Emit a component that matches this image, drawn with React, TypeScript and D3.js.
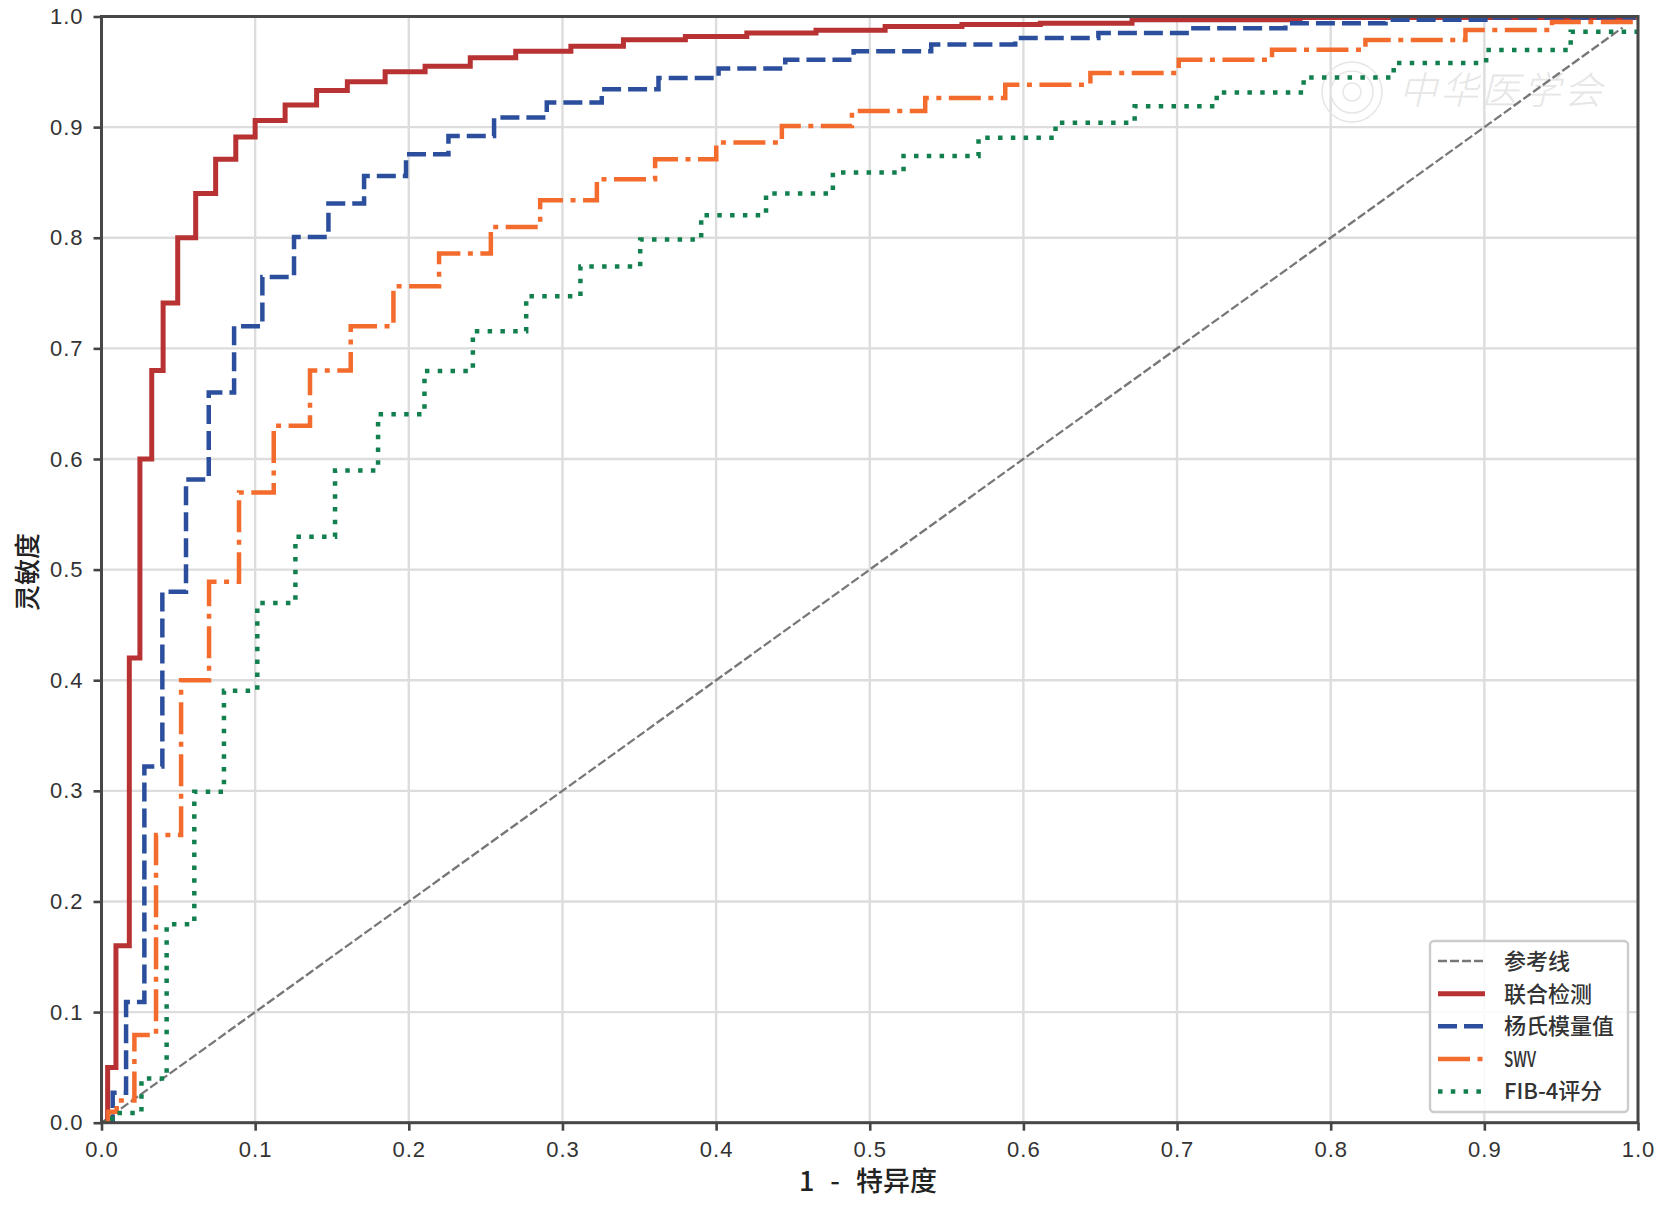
import React, { useEffect, useRef } from 'react'
import * as d3 from 'd3'

const ticks = [0, 0.1, 0.2, 0.3, 0.4, 0.5, 0.6, 0.7, 0.8, 0.9, 1]

// step curves, fpr = where the curve jumps, tpr = new level
const combinedFpr = [0, 0.004, 0.0094, 0.0181, 0.025, 0.0327, 0.0401, 0.0496, 0.0613, 0.0743, 0.0874, 0.1, 0.1195, 0.14, 0.16, 0.1846, 0.2106, 0.24, 0.2696, 0.3055, 0.3397, 0.38, 0.42, 0.465, 0.51, 0.56, 0.611, 0.6707, 0.78, 1]
const combinedTpr = [0, 0.05, 0.16, 0.42, 0.6, 0.68, 0.741, 0.8, 0.84, 0.871, 0.891, 0.906, 0.92, 0.933, 0.941, 0.95, 0.955, 0.9628, 0.9685, 0.973, 0.979, 0.982, 0.985, 0.9875, 0.991, 0.9927, 0.994, 0.997, 0.999, 1]

const modulusFpr = [0, 0.0073, 0.016, 0.0279, 0.0396, 0.055, 0.0698, 0.0863, 0.1047, 0.1253, 0.1477, 0.1709, 0.1982, 0.2258, 0.2555, 0.2898, 0.3256, 0.3625, 0.4016, 0.445, 0.4895, 0.54, 0.5947, 0.6488, 0.7087, 0.7705, 0.8357, 0.904, 1]
const modulusTpr = [0, 0.027, 0.109, 0.322, 0.48, 0.5815, 0.66, 0.72, 0.7646, 0.8007, 0.831, 0.8558, 0.8755, 0.892, 0.9086, 0.9222, 0.9342, 0.9445, 0.953, 0.961, 0.9685, 0.9746, 0.9806, 0.985, 0.9893, 0.994, 0.997, 0.999, 1]

const swvFpr = [0, 0.0045, 0.0099, 0.0214, 0.0355, 0.0518, 0.07, 0.0895, 0.1121, 0.1357, 0.1622, 0.19, 0.2197, 0.2534, 0.2855, 0.3224, 0.3603, 0.4001, 0.4428, 0.4884, 0.5361, 0.5882, 0.6436, 0.7011, 0.7618, 0.8226, 0.8877, 0.944, 1]
const swvTpr = [0, 0.01, 0.02, 0.0793, 0.26, 0.4, 0.489, 0.5697, 0.63, 0.68, 0.72, 0.7561, 0.7857, 0.8098, 0.8339, 0.8529, 0.871, 0.886, 0.901, 0.9146, 0.9263, 0.9384, 0.949, 0.961, 0.97, 0.9788, 0.9878, 0.995, 1]

const fibFpr = [0, 0.007, 0.026, 0.0424, 0.0604, 0.0797, 0.1014, 0.1262, 0.152, 0.18, 0.2102, 0.2417, 0.2764, 0.3117, 0.3506, 0.3903, 0.4325, 0.476, 0.522, 0.5708, 0.6209, 0.6724, 0.7258, 0.7824, 0.841, 0.9012, 0.9562, 1]
const fibTpr = [0, 0.0087, 0.04, 0.1793, 0.2992, 0.3904, 0.4697, 0.5296, 0.5896, 0.6405, 0.6796, 0.7155, 0.7471, 0.774, 0.7983, 0.8203, 0.84, 0.8589, 0.8739, 0.8905, 0.904, 0.9188, 0.9312, 0.9448, 0.958, 0.9697, 0.9863, 0.99]

const refX = [0, 0.99]
const refY = [0, 0.99]

const legendLabels = ['参考线', '联合检测', '杨氏模量值', 'SWV', 'FIB-4评分']
const watermarkChars = ['中', '华', '医', '学', '会']

const FONT = '"Noto Sans CJK SC", sans-serif'

export default function App() {
  const svgRef = useRef<SVGSVGElement>(null)

  useEffect(() => {
    if (!svgRef.current) return

    const svg = d3.select(svgRef.current)
    svg.selectAll('*').remove()

    const left = 101.5, right = 1638, top = 16.5, bottom = 1122.7

    const x = d3.scaleLinear().domain([0, 1]).range([left, right])
    const y = d3.scaleLinear().domain([0, 1]).range([bottom, top])

    svg.append('clipPath').attr('id', 'plot-area')
      .append('rect')
      .attr('x', left).attr('y', top)
      .attr('width', right - left).attr('height', bottom - top)

    // Grid
    const grid = svg.append('g').attr('stroke', '#dddddd').attr('stroke-width', 2.4)
    grid.selectAll('.grid-x').data(ticks).enter().append('line')
      .attr('x1', d => x(d)).attr('x2', d => x(d))
      .attr('y1', top).attr('y2', bottom)
    grid.selectAll('.grid-y').data(ticks).enter().append('line')
      .attr('x1', left).attr('x2', right)
      .attr('y1', d => y(d)).attr('y2', d => y(d))

    // Watermark
    const mark = svg.append('g').attr('fill', 'none').attr('stroke', '#e6e6e6').attr('stroke-width', 1.5)
    mark.append('circle').attr('cx', 1352).attr('cy', 92).attr('r', 30)
    mark.append('circle').attr('cx', 1352).attr('cy', 92).attr('r', 21)
    mark.append('circle').attr('cx', 1352).attr('cy', 92).attr('r', 9)
    const markCenters = d3.scalePoint<string>().domain(watermarkChars).range([1418, 1583])
    svg.append('g').selectAll('text').data(watermarkChars).enter().append('text')
      .attr('transform', d => `translate(${markCenters(d)},104) skewX(-14)`)
      .attr('text-anchor', 'middle')
      .attr('font-family', FONT)
      .attr('font-size', 38)
      .attr('font-weight', 300)
      .attr('fill', '#e6e6e6')
      .text(d => d)

    // Curves
    const stepLine = d3.line<[number, number]>()
      .x(d => x(d[0]))
      .y(d => y(d[1]))
      .curve(d3.curveStepAfter)
    const straightLine = d3.line<[number, number]>()
      .x(d => x(d[0]))
      .y(d => y(d[1]))

    const plot = svg.append('g').attr('clip-path', 'url(#plot-area)').attr('fill', 'none')
    const zipped = (a: number[], b: number[]) => a.map((v, i) => [v, b[i]] as [number, number])

    const styles = [
      { stroke: '#777777', width: 2.3, dash: '9 3' },
      { stroke: '#b83233', width: 5, dash: null },
      { stroke: '#2b4f9c', width: 4.5, dash: '19 7' },
      { stroke: '#f36c2e', width: 4.5, dash: '32 7.5 5 7.5' },
      { stroke: '#12804e', width: 4.5, dash: '4.5 8.3' },
    ]

    plot.append('path')
      .attr('d', straightLine(zipped(refX, refY)))
      .attr('stroke', styles[0].stroke)
      .attr('stroke-width', styles[0].width)
      .attr('stroke-dasharray', styles[0].dash)

    const series = [
      zipped(combinedFpr, combinedTpr),
      zipped(modulusFpr, modulusTpr),
      zipped(swvFpr, swvTpr),
      zipped(fibFpr, fibTpr),
    ]
    series.forEach((points, i) => {
      const st = styles[i + 1]
      plot.append('path')
        .attr('d', stepLine(points))
        .attr('stroke', st.stroke)
        .attr('stroke-width', st.width)
        .attr('stroke-dasharray', st.dash)
    })

    // Axes
    const xAxis = svg.append('g')
      .attr('transform', `translate(0,${bottom})`)
      .call(d3.axisBottom(x).tickValues(ticks).tickFormat(d3.format('.1f')).tickSize(8).tickPadding(11))
    const yAxis = svg.append('g')
      .attr('transform', `translate(${left},0)`)
      .call(d3.axisLeft(y).tickValues(ticks).tickFormat(d3.format('.1f')).tickSize(8).tickPadding(10))
    ;[xAxis, yAxis].forEach(axis => {
      axis.select('.domain').remove()
      axis.selectAll('.tick line').attr('stroke', '#444444').attr('stroke-width', 2.6)
      axis.selectAll('.tick text')
        .attr('fill', '#333333')
        .attr('font-family', '"Liberation Sans", sans-serif')
        .attr('font-size', 22)
        .attr('letter-spacing', 1)
    })

    // Frame
    svg.append('rect')
      .attr('x', left).attr('y', top)
      .attr('width', right - left).attr('height', bottom - top)
      .attr('fill', 'none')
      .attr('stroke', '#474747')
      .attr('stroke-width', 3)

    // Axis titles
    svg.append('text')
      .attr('x', 868).attr('y', 1191)
      .attr('text-anchor', 'middle')
      .attr('font-family', FONT)
      .attr('font-size', 27)
      .attr('font-weight', 500)
      .attr('word-spacing', 10)
      .attr('fill', '#222222')
      .text('1 - 特异度')

    svg.append('text')
      .attr('transform', 'translate(37,572) rotate(-90)')
      .attr('text-anchor', 'middle')
      .attr('font-family', FONT)
      .attr('font-size', 26)
      .attr('font-weight', 500)
      .attr('fill', '#222222')
      .text('灵敏度')

    // Legend
    const legend = svg.append('g')
    legend.append('rect')
      .attr('x', 1430).attr('y', 941)
      .attr('width', 198).attr('height', 171)
      .attr('rx', 4)
      .attr('fill', '#ffffff')
      .attr('fill-opacity', 0.85)
      .attr('stroke', '#cccccc')
      .attr('stroke-width', 2.4)

    const rowY = d3.scaleLinear().domain([0, legendLabels.length - 1]).range([961, 1091.5])
    legendLabels.forEach((label, i) => {
      const st = styles[i]
      legend.append('line')
        .attr('x1', 1438).attr('x2', 1485)
        .attr('y1', rowY(i)).attr('y2', rowY(i))
        .attr('stroke', st.stroke)
        .attr('stroke-width', st.width)
        .attr('stroke-dasharray', st.dash)
      const text = legend.append('text')
        .attr('x', 1504).attr('y', rowY(i))
        .attr('dy', '0.36em')
        .attr('font-family', FONT)
        .attr('font-size', 22)
        .attr('font-weight', 500)
        .attr('fill', '#333333')
        .text(label)
      // the original sets latin in half-width glyphs, SWV comes out much narrower
      if (label === 'SWV') text.attr('textLength', 32).attr('lengthAdjust', 'spacingAndGlyphs')
    })
  }, [])

  return (
    <svg
      ref={svgRef}
      width={1662}
      height={1210}
      style={{ position: 'absolute', left: 0, top: 0, background: '#ffffff' }}
    />
  )
}
